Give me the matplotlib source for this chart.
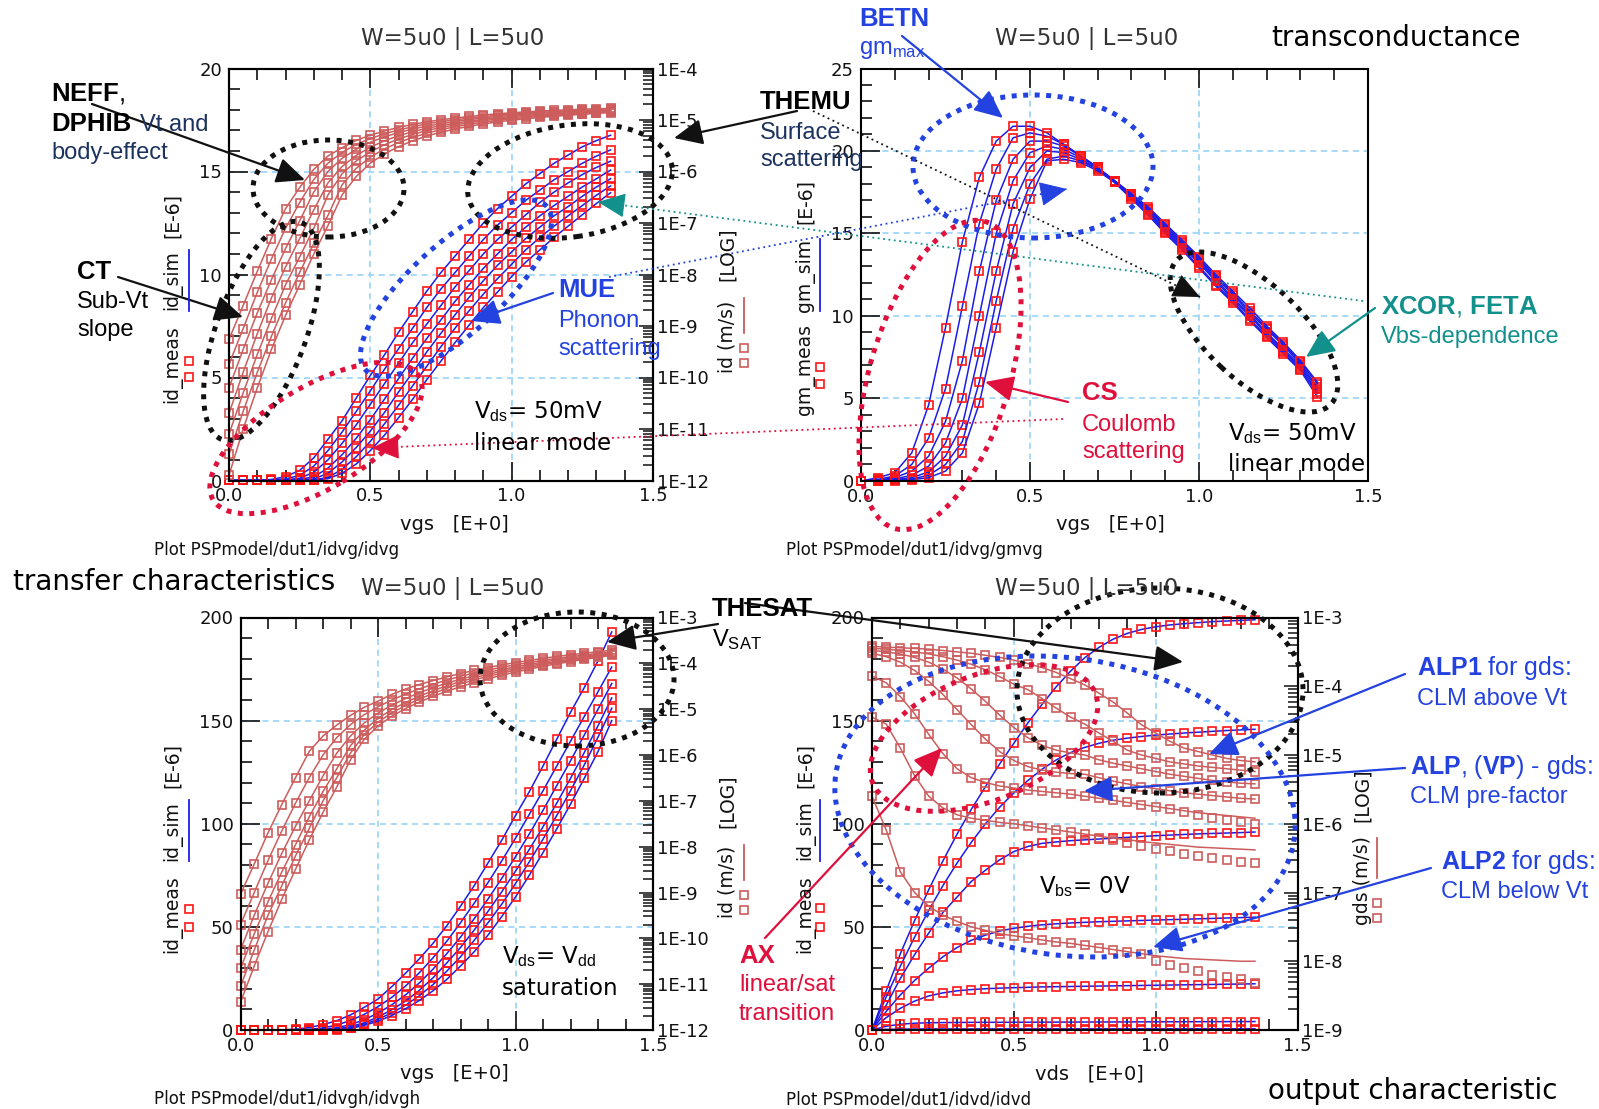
import numpy as np
import matplotlib
matplotlib.use("Agg")
import matplotlib.pyplot as plt
import matplotlib.transforms as mtransforms
from matplotlib.patches import Ellipse, FancyArrowPatch
from matplotlib.lines import Line2D
from matplotlib.ticker import (MultipleLocator, LogLocator, FuncFormatter,
                               FormatStrFormatter, NullFormatter)

plt.rcParams['font.family'] = ['DejaVu Sans']
plt.rcParams['mathtext.fontset'] = 'custom'
plt.rcParams['mathtext.rm'] = 'Liberation Sans'
plt.rcParams['mathtext.bf'] = 'Liberation Sans:bold'
plt.rcParams['mathtext.it'] = 'Liberation Sans:italic'

# ---------------- data ----------------
# sweep voltage grid [V], shared by all panels
vgs = [0.00, 0.05, 0.10, 0.15, 0.20, 0.25, 0.30, 0.35, 0.40, 0.45, 0.50, 0.55, 0.60, 0.65,
       0.70, 0.75, 0.80, 0.85, 0.90, 0.95, 1.00, 1.05, 1.10, 1.15, 1.20, 1.25, 1.30, 1.35]
vds = vgs

# id vs vgs, Vds=50mV, one curve per Vbs  [uA]
id_lin_1 = [5.5e-4, 2.5e-3, 1.15e-2, 0.05, 0.19, 0.49, 1.1, 2.0, 2.9, 4.0, 5.1, 6.1, 7.2, 8.2,
            9.2, 10.1, 10.9, 11.7, 12.5, 13.2, 13.8, 14.4, 14.9, 15.4, 15.8, 16.2, 16.5, 16.76]
id_lin_2 = [1.8e-4, 8.9e-4, 4.5e-3, 0.02, 0.079, 0.25, 0.7, 1.45, 2.35, 3.35, 4.35, 5.4, 6.4, 7.4,
            8.4, 9.3, 10.1, 10.9, 11.7, 12.4, 13.0, 13.6, 14.1, 14.6, 15.0, 15.4, 15.75, 16.05]
id_lin_3 = [6.3e-5, 3.5e-4, 1.8e-3, 7.9e-3, 0.032, 0.11, 0.4, 1.0, 1.8, 2.7, 3.7, 4.7, 5.7, 6.7,
            7.6, 8.5, 9.4, 10.2, 11.0, 11.7, 12.3, 12.9, 13.5, 14.0, 14.45, 14.85, 15.2, 15.5]
id_lin_4 = [2.0e-5, 1.26e-4, 7.1e-4, 3.5e-3, 0.014, 0.05, 0.18, 0.6, 1.25, 2.05, 2.95, 3.95, 4.95, 5.95,
            6.9, 7.8, 8.7, 9.5, 10.3, 11.0, 11.7, 12.3, 12.85, 13.35, 13.8, 14.25, 14.65, 15.07]
id_lin_5 = [7.9e-6, 5.0e-5, 2.8e-4, 1.4e-3, 6.3e-3, 0.022, 0.079, 0.35, 0.9, 1.6, 2.4, 3.3, 4.3, 5.25,
            6.25, 7.15, 8.05, 8.9, 9.7, 10.45, 11.1, 11.75, 12.3, 12.85, 13.3, 13.8, 14.25, 14.65]
id_lin_6 = [3.2e-6, 2.2e-5, 1.26e-4, 6.3e-4, 2.8e-3, 0.011, 0.04, 0.14, 0.55, 1.15, 1.9, 2.75, 3.65, 4.6,
            5.55, 6.5, 7.4, 8.25, 9.05, 9.8, 10.5, 11.2, 11.8, 12.35, 12.85, 13.35, 13.85, 14.3]
id_lin_7 = [1.26e-6, 1.0e-5, 6.3e-5, 3.5e-4, 1.6e-3, 6.3e-3, 0.025, 0.089, 0.35, 0.8, 1.45, 2.2, 3.05, 3.95,
            4.9, 5.8, 6.7, 7.55, 8.4, 9.15, 9.9, 10.6, 11.2, 11.8, 12.35, 12.9, 13.45, 13.97]
id_lin = [id_lin_1, id_lin_2, id_lin_3, id_lin_4, id_lin_5, id_lin_6, id_lin_7]

# gm vs vgs, Vds=50mV  [uS]
gm_1 = [0, 0.2, 0.5, 1.7, 4.6, 9.3, 14.5, 18.4, 20.6, 21.5, 21.5, 21.1, 20.4, 19.7,
        19.0, 18.1, 17.1, 16.1, 15.0, 14.0, 12.9, 11.8, 10.8, 9.7, 8.7, 7.7, 6.7, 5.1]
gm_2 = [0, 0.1, 0.3, 1.0, 2.6, 5.6, 10.6, 15.6, 18.9, 20.8, 21.1, 20.9, 20.4, 19.7,
        19.0, 18.1, 17.2, 16.2, 15.1, 14.1, 13.0, 11.9, 10.9, 9.8, 8.8, 7.8, 6.8, 5.3]
gm_3 = [0, 0.05, 0.2, 0.6, 1.5, 3.6, 7.3, 12.7, 17.0, 19.5, 20.6, 20.6, 20.3, 19.7,
        19.0, 18.2, 17.3, 16.3, 15.2, 14.2, 13.2, 12.1, 11.0, 10.0, 8.9, 7.9, 6.9, 5.4]
gm_4 = [0, 0.03, 0.12, 0.35, 0.9, 2.3, 5.0, 10.0, 15.0, 18.2, 19.9, 20.3, 20.1, 19.6,
        19.0, 18.2, 17.3, 16.4, 15.3, 14.3, 13.3, 12.2, 11.1, 10.1, 9.0, 8.0, 7.0, 5.6]
gm_5 = [0, 0.02, 0.08, 0.2, 0.55, 1.5, 3.4, 7.8, 12.7, 16.8, 19.0, 20.0, 19.9, 19.5,
        18.9, 18.2, 17.4, 16.5, 15.4, 14.4, 13.4, 12.3, 11.3, 10.2, 9.2, 8.2, 7.1, 5.7]
gm_6 = [0, 0.01, 0.05, 0.12, 0.35, 1.0, 2.4, 6.0, 10.9, 15.3, 18.0, 19.5, 19.7, 19.4,
        18.9, 18.2, 17.4, 16.5, 15.5, 14.5, 13.5, 12.4, 11.4, 10.3, 9.3, 8.3, 7.2, 5.9]
gm_7 = [0, 0.0, 0.03, 0.08, 0.2, 0.6, 1.7, 4.7, 9.3, 13.9, 17.1, 19.4, 19.5, 19.3,
        18.8, 18.1, 17.4, 16.6, 15.6, 14.6, 13.6, 12.5, 11.5, 10.5, 9.4, 8.4, 7.3, 6.0]
gm = [gm_1, gm_2, gm_3, gm_4, gm_5, gm_6, gm_7]

# id vs vgs, Vds=Vdd (saturation)  [uA]
id_sat_1 = [9.1e-4, 4.2e-3, 0.02, 0.083, 0.32, 1.2, 2.6, 4.5, 7.3, 11.0, 15.0, 21.0, 27.5, 34.5,
            42.0, 50.5, 60.0, 70.0, 81.0, 92.0, 104.0, 115.5, 128.0, 141.0, 154.0, 166.0, 179.0, 193.0]
id_sat_2 = [2.0e-4, 1.0e-3, 5.0e-3, 0.022, 0.089, 0.32, 1.0, 2.4, 4.6, 7.6, 11.3, 15.8, 21.3, 27.7,
            35.0, 43.0, 52.0, 61.5, 71.5, 82.0, 93.0, 104.5, 116.0, 128.0, 140.0, 152.0, 164.0, 176.0]
id_sat_3 = [5.6e-5, 3.2e-4, 1.6e-3, 7.1e-3, 0.028, 0.1, 0.35, 1.1, 2.6, 5.0, 8.2, 12.2, 17.0, 22.8,
            29.5, 37.0, 45.0, 54.0, 63.5, 73.5, 84.0, 95.0, 106.5, 118.5, 130.5, 143.0, 155.5, 168.0]
id_sat_4 = [2.2e-5, 1.26e-4, 6.3e-4, 2.8e-3, 0.011, 0.045, 0.16, 0.5, 1.6, 3.5, 6.3, 9.8, 14.0, 19.2,
            25.3, 32.5, 40.0, 48.5, 57.5, 67.0, 77.0, 87.5, 98.5, 110.0, 122.0, 134.5, 147.5, 161.0]
id_sat_5 = [8.9e-6, 5.6e-5, 3.2e-4, 1.4e-3, 6.3e-3, 0.025, 0.1, 0.32, 1.1, 2.8, 5.2, 8.3, 12.0, 16.6,
            22.0, 28.5, 35.5, 43.5, 52.0, 61.0, 71.0, 81.5, 92.5, 104.0, 116.0, 128.5, 142.0, 156.0]
id_sat_6 = [4.0e-6, 2.5e-5, 1.4e-4, 7.1e-4, 3.2e-3, 0.014, 0.056, 0.2, 0.79, 2.2, 4.3, 7.0, 10.3, 14.3,
            19.0, 24.5, 31.0, 38.0, 46.0, 55.0, 64.5, 75.0, 86.0, 97.5, 109.5, 122.0, 135.0, 150.0]
id_sat = [id_sat_1, id_sat_2, id_sat_3, id_sat_4, id_sat_5, id_sat_6]

# id vs vds, Vbs=0, one curve per vgs  [uA]
id_out_1 = [0, 19, 37, 53, 68, 82, 95, 107, 118, 129, 139, 149, 158, 166.5,
            174, 180.5, 185.5, 189.5, 192.3, 194.2, 195.5, 196.4, 197.0, 197.5, 198.0, 198.3, 198.6, 198.9]
id_out_2 = [0, 16, 31, 45, 58, 70, 81, 91, 100, 108, 115, 121, 126.5, 131,
            134.5, 137, 139, 140.5, 141.5, 142.3, 143, 143.5, 144, 144.4, 144.8, 145.2, 145.5, 145.8]
id_out_3 = [0, 12, 25, 36.5, 47, 57, 64.5, 72, 77.5, 82.5, 86.5, 89, 90.5, 91.2,
            91.8, 92.2, 92.6, 93, 93.4, 93.8, 94.2, 94.5, 94.8, 95.1, 95.3, 95.5, 95.7, 96]
id_out_4 = [0, 9, 17, 24, 30, 35.5, 40, 43.5, 46, 48, 49.3, 50.3, 51, 51.5,
            51.9, 52.2, 52.5, 52.7, 52.9, 53.1, 53.3, 53.5, 53.7, 53.9, 54.1, 54.3, 54.5, 54.7]
id_out_5 = [0, 6, 10.5, 14, 16.5, 18, 19, 19.6, 20, 20.3, 20.5, 20.7, 20.9, 21.0,
            21.1, 21.2, 21.3, 21.4, 21.5, 21.6, 21.7, 21.8, 21.9, 22.0, 22.1, 22.2, 22.3, 22.4]
id_out_6 = [0, 1.8, 2.8, 3.3, 3.5, 3.6, 3.65, 3.7, 3.72, 3.74, 3.76, 3.78, 3.8, 3.82,
            3.84, 3.86, 3.88, 3.9, 3.92, 3.94, 3.96, 3.98, 4.0, 4.02, 4.04, 4.06, 4.08, 4.1]
id_out_7 = [0, 0.3, 0.42, 0.47, 0.5, 0.51, 0.52, 0.52, 0.53, 0.53, 0.54, 0.54, 0.55, 0.55,
            0.55, 0.56, 0.56, 0.56, 0.57, 0.57, 0.57, 0.58, 0.58, 0.58, 0.59, 0.59, 0.59, 0.6]
id_out = [id_out_1, id_out_2, id_out_3, id_out_4, id_out_5, id_out_6, id_out_7]

# gds vs vds, log10 of value  (sim lines)
gds_sim_1 = [-3.42, -3.43, -3.44, -3.45, -3.46, -3.48, -3.50, -3.52, -3.55, -3.58, -3.62, -3.67, -3.73, -3.80,
             -3.89, -3.98, -4.10, -4.23, -4.39, -4.56, -4.68, -4.80, -4.90, -4.95, -5.00, -5.05, -5.08, -5.10]
gds_sim_2 = [-3.45, -3.46, -3.48, -3.50, -3.53, -3.57, -3.62, -3.68, -3.76, -3.86, -3.97, -4.05, -4.18, -4.32,
             -4.45, -4.55, -4.68, -4.80, -4.93, -5.00, -5.05, -5.10, -5.13, -5.16, -5.18, -5.20, -5.22, -5.24]
gds_sim_3 = [-3.48, -3.50, -3.53, -3.58, -3.65, -3.75, -3.88, -4.04, -4.22, -4.42, -4.60, -4.75, -4.86, -4.93,
             -4.97, -5.00, -5.07, -5.12, -5.16, -5.20, -5.24, -5.28, -5.31, -5.34, -5.37, -5.39, -5.41, -5.42]
gds_sim_4 = [-3.52, -3.57, -3.65, -3.77, -3.93, -4.12, -4.34, -4.56, -4.77, -4.95, -5.08, -5.17, -5.22, -5.25,
             -5.27, -5.28, -5.33, -5.38, -5.42, -5.46, -5.49, -5.52, -5.55, -5.57, -5.59, -5.61, -5.63, -5.64]
gds_sim_5 = [-3.85, -3.95, -4.15, -4.40, -4.70, -4.98, -5.20, -5.33, -5.40, -5.45, -5.48, -5.51, -5.53, -5.55,
             -5.57, -5.60, -5.63, -5.66, -5.69, -5.72, -5.75, -5.78, -5.81, -5.84, -5.86, -5.88, -5.90, -5.92]
gds_sim_6 = [-4.45, -4.55, -4.90, -5.30, -5.60, -5.77, -5.87, -5.92, -5.95, -5.98, -6.00, -6.03, -6.06, -6.09,
             -6.12, -6.15, -6.18, -6.21, -6.23, -6.26, -6.28, -6.30, -6.32, -6.34, -6.35, -6.36, -6.37, -6.38]
gds_sim_7 = [-5.60, -6.09, -6.70, -7.00, -7.20, -7.33, -7.42, -7.50, -7.55, -7.60, -7.63, -7.66, -7.69, -7.72,
             -7.74, -7.77, -7.80, -7.83, -7.86, -7.89, -7.92, -7.94, -7.96, -7.97, -7.98, -7.99, -8.00, -8.00]
# measured gds where it leaves the simulated line
gds_meas_5 = [-3.85, -3.95, -4.15, -4.40, -4.70, -4.98, -5.20, -5.33, -5.40, -5.45, -5.48, -5.51, -5.53, -5.55,
              -5.57, -5.60, -5.63, -5.66, -5.69, -5.72, -5.75, -5.79, -5.83, -5.87, -5.91, -5.94, -5.97, -6.00]
gds_meas_6 = [-4.45, -4.55, -4.90, -5.30, -5.60, -5.77, -5.87, -5.92, -5.95, -5.98, -6.00, -6.03, -6.06, -6.09,
              -6.12, -6.15, -6.20, -6.24, -6.28, -6.32, -6.36, -6.40, -6.44, -6.47, -6.50, -6.52, -6.55, -6.57]
gds_meas_7 = [-5.60, -6.09, -6.70, -7.00, -7.20, -7.33, -7.42, -7.50, -7.55, -7.60, -7.63, -7.66, -7.69, -7.72,
              -7.74, -7.77, -7.80, -7.83, -7.86, -7.89, -8.00, -8.06, -8.10, -8.14, -8.20, -8.23, -8.26, -8.32]
gds_sim = [gds_sim_1, gds_sim_2, gds_sim_3, gds_sim_4, gds_sim_5, gds_sim_6, gds_sim_7]
gds_meas = [gds_sim_1, gds_sim_2, gds_sim_3, gds_sim_4, gds_meas_5, gds_meas_6, gds_meas_7]

# ---------------- styling ----------------
BLUE = '#1c1ce8'
RED = '#ff1414'
ROSY = '#cd5c5c'
GRID = '#8fd0f5'
NAVY = '#1c325f'
ABLUE = '#2342e0'
ACRIM = '#e0103c'
TEAL = '#12908c'
ANN = 'Liberation Sans'
MS = 5.8

W, H = 1599, 1109
fig = plt.figure(figsize=(W / 100, H / 100), dpi=100)
PX = mtransforms.Affine2D().scale(1.0 / W, 1.0 / H) + fig.transFigure


def add_panel(l, t, r, b, ylim, ymaj, ymin, log_lim=None):
    ax = fig.add_axes([l / W, 1 - b / H, (r - l) / W, (b - t) / H])
    ax.set_xlim(0, 1.5)
    ax.set_ylim(*ylim)
    ax.xaxis.set_major_locator(MultipleLocator(0.5))
    ax.xaxis.set_minor_locator(MultipleLocator(0.1))
    ax.xaxis.set_major_formatter(FormatStrFormatter('%.1f'))
    ax.yaxis.set_major_locator(MultipleLocator(ymaj))
    ax.yaxis.set_minor_locator(MultipleLocator(ymin))
    ax.tick_params(which='both', direction='in', top=True, right=False, width=1.2,
                   labelsize=13, colors='#111111')
    ax.tick_params(which='major', length=14, pad=5)
    ax.tick_params(which='minor', length=8)
    ax.grid(True, which='major', color=GRID, ls=(0, (4, 3)), lw=1.1)
    ax.set_axisbelow(True)
    for s in ax.spines.values():
        s.set_linewidth(1.5)
    axr = None
    if log_lim is not None:
        axr = ax.twinx()
        axr.set_yscale('log')
        axr.set_ylim(*log_lim)
        axr.yaxis.set_major_locator(LogLocator(base=10, numticks=20))
        axr.yaxis.set_minor_locator(LogLocator(base=10, subs=np.arange(2, 10), numticks=20))
        axr.yaxis.set_major_formatter(FuncFormatter(lambda v, p: '1E%d' % round(np.log10(v))))
        axr.yaxis.set_minor_formatter(NullFormatter())
        axr.tick_params(which='both', direction='in', width=1.1, labelsize=13, pad=3,
                        colors='#111111')
        axr.tick_params(which='major', length=10)
        axr.tick_params(which='minor', length=7)
        for s in axr.spines.values():
            s.set_linewidth(1.5)
    return ax, axr


def sim_meas(ax, x, y_sim, y_meas, line_c, mark_c):
    ax.plot(x, y_sim, color=line_c, lw=1.1)
    ax.plot(x, y_meas, ls='none', marker='s', ms=MS, mfc='none', mec=mark_c, mew=1.2,
            clip_on=False)


def txt(x, y, s, size=17, color='black', weight='normal', family=ANN, ha='left',
        va='baseline', rot=0):
    fig.text(x / W, 1 - y / H, s, fontsize=size, color=color, fontweight=weight,
             family=family, ha=ha, va=va, rotation=rot)


def ell(cx, cy, w, h, ang, color):
    fig.add_artist(Ellipse((cx, H - cy), w, h, angle=ang, transform=PX, fill=False,
                           ec=color, lw=3.6, ls=(0, (1, 1.3))))


def arrow(x0, y0, x1, y1, color, lw=1.6):
    fig.add_artist(FancyArrowPatch((x0, H - y0), (x1, H - y1), transform=PX,
                                   arrowstyle='-|>,head_length=0.8,head_width=0.36',
                                   mutation_scale=22, color=color, lw=lw,
                                   shrinkA=0, shrinkB=0))


def dotted_arrow(x0, y0, x1, y1, color):
    fig.add_artist(Line2D([x0, x1], [H - y0, H - y1], transform=PX, color=color,
                          lw=1.3, ls=(0, (1, 2))))
    d = np.hypot(x1 - x0, y1 - y0)
    ux, uy = (x1 - x0) / d, (y1 - y0) / d
    arrow(x1 - 18 * ux, y1 - 18 * uy, x1, y1, color, lw=0.8)


def ylabel_block(x, words, line_x, line_y, sq_ys, line_c, sq_c):
    for s, yc in words:
        txt(x, yc, s, size=13.5, family='DejaVu Sans', ha='center', va='center', rot=90,
            color='#111111')
    fig.add_artist(Line2D([line_x, line_x], [H - line_y[0], H - line_y[1]], transform=PX,
                          color=line_c, lw=1.3))
    fig.add_artist(Line2D([line_x] * len(sq_ys), [H - y for y in sq_ys], transform=PX,
                          ls='none', marker='s', ms=MS, mfc='none', mec=sq_c, mew=1.2))


# ---------------- panel 1: id-vgs linear mode ----------------
ax1, ax1r = add_panel(229, 68.5, 653, 480.5, (0, 20), 5, 1, (1e-12, 1e-4))
for c in id_lin:
    sim_meas(ax1, vgs, c, c, BLUE, RED)
    cl = [v * 1e-6 for v in c]
    sim_meas(ax1r, vgs, cl, cl, ROSY, ROSY)

# ---------------- panel 2: gm-vgs ----------------
ax2, _ = add_panel(861, 68.5, 1368, 481, (0, 25), 5, 1)
for c in gm:
    sim_meas(ax2, vgs, c, c, BLUE, RED)

# ---------------- panel 3: id-vgs saturation ----------------
ax3, ax3r = add_panel(240.5, 617.5, 653, 1030, (0, 200), 50, 10, (1e-12, 1e-3))
for c in id_sat:
    sim_meas(ax3, vgs, c, c, BLUE, RED)
    cl = [v * 1e-6 for v in c]
    sim_meas(ax3r, vgs, cl, cl, ROSY, ROSY)

# ---------------- panel 4: id-vds / gds ----------------
ax4, ax4r = add_panel(872, 617.5, 1297.5, 1030, (0, 200), 50, 10, (1e-9, 1e-3))
for c in id_out:
    sim_meas(ax4, vds, c, c, BLUE, RED)
for gs, gmv in zip(gds_sim, gds_meas):
    sim_meas(ax4r, vds, [10 ** v for v in gs], [10 ** v for v in gmv], ROSY, ROSY)

# ---------------- axis texts ----------------
DJ = 'DejaVu Sans'
for xc, yb in [(453, 44.6), (1087, 44.6), (453, 595), (1087, 595)]:
    txt(xc, yb, 'W=5u0 | L=5u0', size=16.5, family=DJ, ha='center', color='#333333')
for xc, yb, s in [(454, 529.6, 'vgs   [E+0]'), (1110, 529.6, 'vgs   [E+0]'),
                  (454, 1079, 'vgs   [E+0]'), (1089, 1079, 'vds   [E+0]')]:
    txt(xc, yb, s, size=14, family=DJ, ha='center', color='#111111')
for xl, yb, s in [(154, 555.4, 'Plot PSPmodel/dut1/idvg/idvg'),
                  (786, 555.4, 'Plot PSPmodel/dut1/idvg/gmvg'),
                  (154, 1104.5, 'Plot PSPmodel/dut1/idvgh/idvgh'),
                  (786, 1104.5, 'Plot PSPmodel/dut1/idvd/idvd')]:
    txt(xl, yb, s, size=12, family=DJ, color='#111111')

ylabel_block(172, [('id_meas', 364.5), ('id_sim', 280.5), ('[E-6]', 215)],
             189, (250, 311), (361, 377), BLUE, RED)
ylabel_block(805, [('gm_meas', 369.5), ('gm_sim', 275), ('[E-6]', 201)],
             820, (239, 311), (367, 384), BLUE, RED)
ylabel_block(172, [('id_meas', 914.5), ('id_sim', 831.5), ('[E-6]', 765)],
             189, (800, 861), (909, 927), BLUE, RED)
ylabel_block(805, [('id_meas', 914.5), ('id_sim', 830.5), ('[E-6]', 765)],
             820, (800, 861), (908, 927), BLUE, RED)
ylabel_block(727, [('id (m/s)', 337), ('[LOG]', 254.5)],
             744, (298, 333), (348, 363), ROSY, ROSY)
ylabel_block(727, [('id (m/s)', 882), ('[LOG]', 801)],
             744, (845, 880), (895, 910), ROSY, ROSY)
ylabel_block(1362, [('gds (m/s)', 881), ('[LOG]', 795.5)],
             1377, (838, 878), (903, 918), ROSY, ROSY)

# ---------------- big captions ----------------
txt(1271, 46, 'transconductance', size=20, family=DJ)
txt(13, 590, 'transfer characteristics', size=20, family=DJ)
txt(1268, 1099, 'output characteristic', size=20, family=DJ)

# ---------------- ellipses ----------------
ell(328.5, 188.5, 151, 97, 0, '#111111')      # NEFF
ell(261.5, 331, 231, 90, 70, '#111111')       # CT
ell(570, 181, 206, 112, 8, '#111111')         # THEMU
ell(456, 288, 244, 90, 42, ABLUE)             # MUE
ell(316, 438, 240, 102, 31, ACRIM)            # CS (id)
ell(1033, 166.5, 240, 143, 0, ABLUE)          # BETN
ell(940, 375, 320, 140, 73.5, ACRIM)          # CS (gm)
ell(1254, 332, 211, 96, -43, '#111111')       # XCOR
ell(577, 679, 194, 134, 0, '#111111')         # THESAT (sat)
ell(1160, 690.5, 286, 205, 0, '#111111')      # THESAT (output)
ell(1065, 806.5, 463, 297, -8, ABLUE)         # ALP
ell(984, 738, 240, 125, 22, ACRIM)            # AX

# ---------------- connectors ----------------
dotted_arrow(1063, 419, 372, 448, ACRIM)
dotted_arrow(1363, 301, 598, 202, TEAL)
dotted_arrow(609, 277, 1067, 189, ABLUE)
dotted_arrow(813, 111, 1200, 297, '#111111')
arrow(92, 104, 305, 180, '#111111')
arrow(118, 277, 243, 317, '#111111')
arrow(553, 293, 471, 321, ABLUE)
arrow(797, 111, 674, 138, '#111111')
arrow(902, 36, 1003, 118, ABLUE)
arrow(1068, 402, 985, 382, ACRIM)
arrow(1375, 308, 1306, 357, TEAL)
arrow(718, 624, 607, 642, '#111111')
arrow(745, 603, 1183, 662, '#111111')
arrow(765, 938, 942, 748, ACRIM)
arrow(1405, 674, 1209, 754, ABLUE)
arrow(1405, 768, 1084, 791, ABLUE)
arrow(1431, 868, 1153, 947, ABLUE)

# ---------------- annotation texts ----------------
txt(51, 100, r'$\mathbf{NEFF}$,', size=18.5)
txt(51, 131.4, 'DPHIB', size=18.5, weight='bold')
txt(140, 131.4, 'Vt and', size=17, color=NAVY)
txt(51, 159, 'body-effect', size=17, color=NAVY)
txt(77, 278.6, 'CT', size=18.5, weight='bold')
txt(77, 307.9, 'Sub-Vt', size=17)
txt(77, 335.7, 'slope', size=17)
txt(558, 297.3, 'MUE', size=18.5, weight='bold', color=ABLUE)
txt(558, 326.7, 'Phonon', size=17, color=ABLUE)
txt(558, 355, 'scattering', size=17, color=ABLUE)
txt(474, 418.3, r'V$_{\mathrm{ds}}$= 50mV', size=16.5, family=DJ)
txt(474, 450, 'linear mode', size=16.5, family=DJ)

txt(760, 109, 'THEMU', size=18.5, weight='bold')
txt(760, 138.6, 'Surface', size=17, color=NAVY)
txt(760, 166, 'scattering', size=17, color=NAVY)
txt(859, 26, 'BETN', size=18.5, weight='bold', color=ABLUE)
txt(859, 54, r'gm$_{\mathrm{max}}$', size=17, color=ABLUE)
txt(1082, 400.5, 'CS', size=18.5, weight='bold', color=ACRIM)
txt(1082, 430.7, 'Coulomb', size=17, color=ACRIM)
txt(1082, 458, 'scattering', size=17, color=ACRIM)
txt(1381, 313.6, r'$\mathbf{XCOR}$, $\mathbf{FETA}$', size=18.5, color=TEAL)
txt(1381, 342.9, 'Vbs-dependence', size=17, color=TEAL)
txt(1228, 440, r'V$_{\mathrm{ds}}$= 50mV', size=16.5, family=DJ)
txt(1228, 471, 'linear mode', size=16.5, family=DJ)

txt(712, 616, 'THESAT', size=18.5, weight='bold')
txt(712, 646, r'V$_{\mathrm{SAT}}$', size=17)
txt(502, 963.3, r'V$_{\mathrm{ds}}$= V$_{\mathrm{dd}}$', size=16.5, family=DJ)
txt(502, 995, 'saturation', size=16.5, family=DJ)

txt(739, 962.7, 'AX', size=18.5, weight='bold', color=ACRIM)
txt(739, 991.4, 'linear/sat', size=17, color=ACRIM)
txt(739, 1020.4, 'transition', size=17, color=ACRIM)
txt(1417, 675.5, r'$\mathbf{ALP1}$ for gds:', size=18, color=ABLUE)
txt(1417, 705.3, 'CLM above Vt', size=17, color=ABLUE)
txt(1410, 774.3, r'$\mathbf{ALP}$, ($\mathbf{VP}$) - gds:', size=18, color=ABLUE)
txt(1410, 803.3, 'CLM pre-factor', size=17, color=ABLUE)
txt(1441, 868.8, r'$\mathbf{ALP2}$ for gds:', size=18, color=ABLUE)
txt(1441, 897.9, 'CLM below Vt', size=17, color=ABLUE)
txt(1039, 893.3, r'V$_{\mathrm{bs}}$= 0V', size=16.5, family=DJ)

fig.savefig('out.png', dpi=100)
